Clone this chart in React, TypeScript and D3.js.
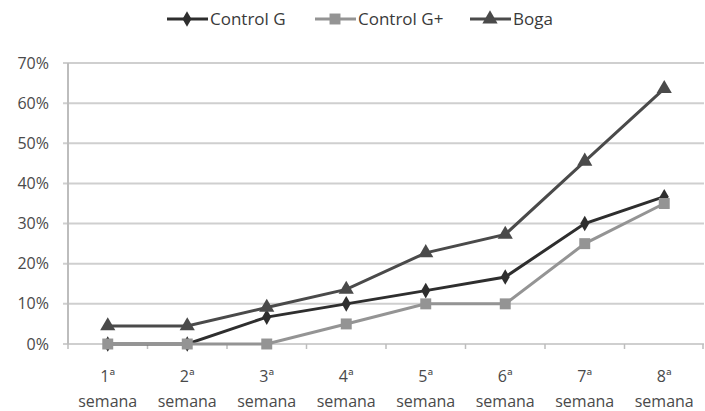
import React from "react";
import * as d3 from "d3";

const categories = ["1ª", "2ª", "3ª", "4ª", "5ª", "6ª", "7ª", "8ª"];
const controlG = [0, 0, 6.7, 10, 13.3, 16.7, 30, 36.7];
const controlGPlus = [0, 0, 0, 5, 10, 10, 25, 35];
const boga = [4.5, 4.5, 9.1, 13.6, 22.7, 27.3, 45.5, 63.6];
const yTicks = [0, 10, 20, 30, 40, 50, 60, 70];

const W = 705;
const H = 411;
const left = 68;
const right = 704;
const top = 63;
const bottom = 344;
const font = "'Open Sans', 'Liberation Sans', sans-serif";

type Series = { name: string; values: number[]; color: string; marker: "diamond" | "square" | "triangle" };

const series: Series[] = [
  { name: "Control G", values: controlG, color: "#2e2e2e", marker: "diamond" },
  { name: "Control G+", values: controlGPlus, color: "#949494", marker: "square" },
  { name: "Boga", values: boga, color: "#4a4a4a", marker: "triangle" },
];

function Marker({ kind, x, y, color }: { kind: Series["marker"]; x: number; y: number; color: string }) {
  const sym =
    kind === "diamond" ? d3.symbolDiamond : kind === "square" ? d3.symbolSquare : d3.symbolTriangle;
  const size = kind === "diamond" ? 70 : kind === "square" ? 120 : 100;
  const path = d3.symbol(sym, size)() || "";
  return <path d={path} transform={`translate(${x},${y})`} fill={color} />;
}

export default function App() {
  const x = d3.scaleBand<string>().domain(categories).range([left, right]);
  const y = d3.scaleLinear().domain([0, 70]).range([bottom, top]);
  const cx = (c: string) => (x(c) ?? 0) + x.bandwidth() / 2;
  const line = d3
    .line<number>()
    .x((_, i) => cx(categories[i]))
    .y((d) => y(d));

  const legendItems = [
    { s: series[0], x0: 167 },
    { s: series[1], x0: 315 },
    { s: series[2], x0: 470 },
  ];

  return (
    <svg width={W} height={H} style={{ position: "absolute", left: 0, top: 0, background: "#fff" }}>
      <rect width={W} height={H} fill="#fff" />
      {/* gridlines */}
      {yTicks.map((t) => (
        <line key={t} x1={left - 5} x2={right} y1={y(t)} y2={y(t)} stroke="#cfcfcf" strokeWidth={2} />
      ))}
      {/* y axis */}
      <line x1={left} x2={left} y1={top} y2={bottom} stroke="#bdbdbd" strokeWidth={2} />
      {/* x axis ticks */}
      {categories.map((c) => (
        <line
          key={c}
          x1={x(c) ?? 0}
          x2={x(c) ?? 0}
          y1={bottom}
          y2={bottom + 5}
          stroke="#bdbdbd"
          strokeWidth={1.5}
        />
      ))}
      <line x1={right - 1} x2={right - 1} y1={bottom} y2={bottom + 5} stroke="#bdbdbd" strokeWidth={1.5} />
      {/* y labels */}
      {yTicks.map((t) => (
        <text
          key={t}
          x={49}
          y={y(t)}
          dy="0.35em"
          textAnchor="end"
          fontFamily={font}
          fontSize={16}
          fill="#4a4a4a"
        >
          {t}%
        </text>
      ))}
      {/* x labels */}
      {categories.map((c) => (
        <g key={c} fontFamily={font} fontSize={16} fill="#4a4a4a" textAnchor="middle">
          <text x={cx(c)} y={382}>{c}</text>
          <text x={cx(c)} y={407}>semana</text>
        </g>
      ))}
      {/* series */}
      {series.map((s) => (
        <g key={s.name}>
          <path d={line(s.values) || ""} fill="none" stroke={s.color} strokeWidth={3} />
          {s.values.map((v, i) => (
            <Marker key={i} kind={s.marker} x={cx(categories[i])} y={y(v)} color={s.color} />
          ))}
        </g>
      ))}
      {/* legend */}
      {legendItems.map(({ s, x0 }) => (
        <g key={s.name}>
          <line x1={x0} x2={x0 + 41} y1={19} y2={19} stroke={s.color} strokeWidth={3} />
          <Marker kind={s.marker} x={x0 + 20} y={19} color={s.color} />
          <text x={x0 + 43} y={19} dy="0.35em" fontFamily={font} fontSize={17} fill="#3a3a3a">
            {s.name}
          </text>
        </g>
      ))}
    </svg>
  );
}
